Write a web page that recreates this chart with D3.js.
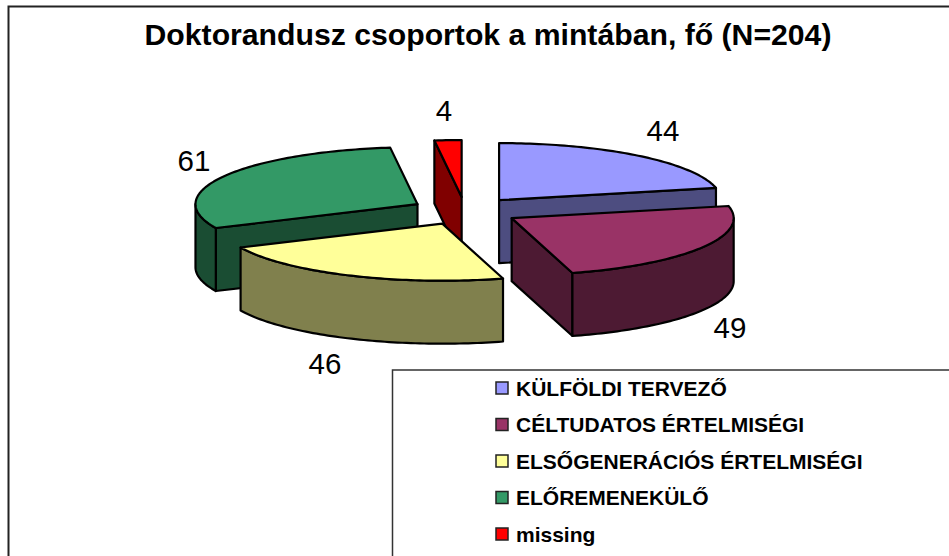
<!DOCTYPE html>
<html>
<head>
<meta charset="utf-8">
<script src="https://cdn.jsdelivr.net/npm/d3@7"></script>
<style>
html,body{margin:0;padding:0;background:#fff;overflow:hidden}
svg{display:block}
text{font-family:"Liberation Sans",Arial,sans-serif;fill:#000}
</style>
</head>
<body>
<svg id="c" width="949" height="556"></svg>
<script>
const titleText = "Doktorandusz csoportok a mintában, fő (N=204)";
const categories = ["KÜLFÖLDI TERVEZŐ","CÉLTUDATOS ÉRTELMISÉGI","ELSŐGENERÁCIÓS ÉRTELMISÉGI","ELŐREMENEKÜLŐ","missing"];
const values = [44,49,46,61,4];
const topColors = ["#9999FF","#993366","#FFFF99","#339966","#FF0000"];
const sideColors = ["#4D4D80","#4D1A33","#80804D","#1A4D33","#800000"];
const labelPositions = [[663,131],[730,328],[325,364],[194,161],[444,111]];
const paintOrder = [0,3,4,1,2];

const svg = d3.select("#c");
const cx = 465, cy = 211, rx = 222, ry = 57, depth = 63, explode = 0.245;
const px = d3.scaleLinear().domain([-1,1]).range([-rx,rx]);
const py = d3.scaleLinear().domain([-1,1]).range([-ry,ry]);

const arcs = d3.pie().sort(null).value(d=>d)(values);

// frame
svg.append("path").attr("d","M8.5,556V6.5H949").attr("fill","none").attr("stroke","#222").attr("stroke-width",2);

svg.append("text").attr("x",488).attr("y",44.5).attr("text-anchor","middle")
  .attr("font-size",30.2).attr("font-weight","bold").text(titleText);

function pt(c,t,dy=0){return [c[0]+px(Math.sin(t)), c[1]-py(Math.cos(t))+dy];}
function arcPts(c,a,b,dy=0){
  const n = Math.max(2,Math.ceil((b-a)/0.02)), out=[];
  for(let i=0;i<=n;i++) out.push(pt(c,a+(b-a)*i/n,dy));
  return out;
}
const line = d3.line();
const sw = 2.2;

paintOrder.forEach(i=>{
  const d = arcs[i], mid=(d.startAngle+d.endAngle)/2;
  const c = [cx+explode*px(Math.sin(mid)), cy-explode*py(Math.cos(mid))];
  const g = svg.append("g");
  const face = t => {
    const p = pt(c,t);
    g.append("path").attr("d",line([c,p,[p[0],p[1]+depth],[c[0],c[1]+depth]])+"Z")
      .attr("fill",sideColors[i]).attr("stroke","#000").attr("stroke-width",sw).attr("stroke-linejoin","round");
  };
  if(Math.sin(d.startAngle)<-1e-6) face(d.startAngle);
  if(Math.sin(d.endAngle)>1e-6) face(d.endAngle);
  const a0=Math.max(d.startAngle,Math.PI/2), a1=Math.min(d.endAngle,3*Math.PI/2);
  if(a1>a0){
    const pts = arcPts(c,a0,a1).concat(arcPts(c,a0,a1,depth).reverse());
    g.append("path").attr("d",line(pts)+"Z").attr("fill",sideColors[i])
      .attr("stroke","#000").attr("stroke-width",sw).attr("stroke-linejoin","round");
  }
  g.append("path").attr("d",line([c].concat(arcPts(c,d.startAngle,d.endAngle)))+"Z")
    .attr("fill",topColors[i]).attr("stroke","#000").attr("stroke-width",sw).attr("stroke-linejoin","round");
});

// data labels
values.forEach((v,i)=>{
  svg.append("text").attr("x",labelPositions[i][0]).attr("y",labelPositions[i][1]+10)
    .attr("text-anchor","middle").attr("font-size",29.5).text(v);
});

// legend
svg.append("path").attr("d","M392.5,556V370H949").attr("fill","none").attr("stroke","#333").attr("stroke-width",1.5);
const ly = d3.scalePoint().domain(categories).range([388,534]);
categories.forEach((n,i)=>{
  svg.append("rect").attr("x",496).attr("y",ly(n)-6).attr("width",12).attr("height",12)
    .attr("fill",topColors[i]).attr("stroke","#222").attr("stroke-width",1.5);
  svg.append("text").attr("x",516).attr("y",ly(n)+7.5).attr("font-size",21).attr("font-weight","bold").text(n);
});
</script>
</body>
</html>
